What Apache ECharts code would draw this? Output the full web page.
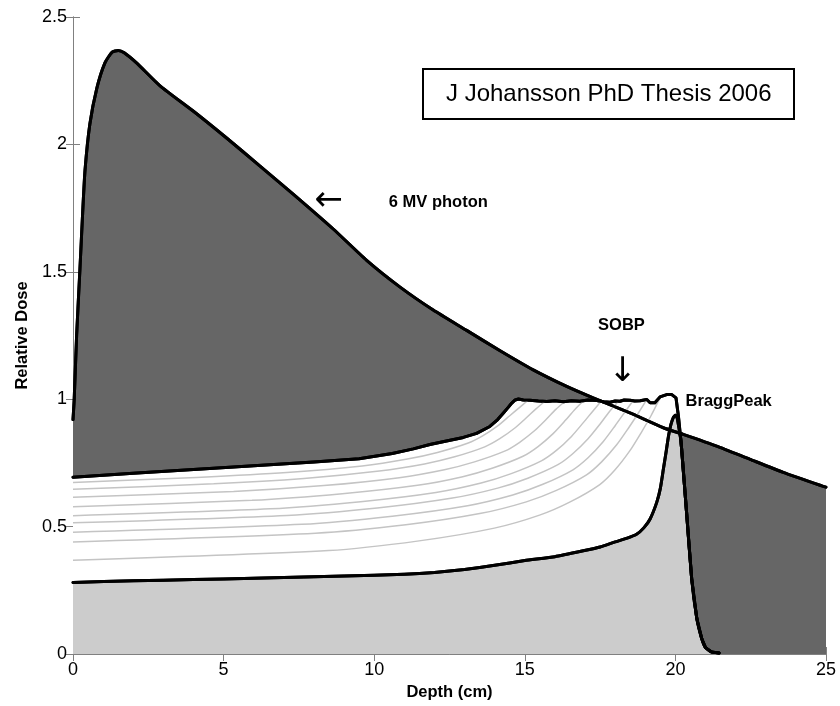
<!DOCTYPE html>
<html><head><meta charset="utf-8">
<script src="https://cdn.jsdelivr.net/npm/echarts@6/dist/echarts.min.js"></script>
<style>html,body{margin:0;padding:0;background:#fff}#c{width:840px;height:706px}</style>
</head><body><div id="c"></div>
<script>
// Axis ranges / ticks
const xTicks = [0, 5, 10, 15, 20, 25];
const yTicks = [0, 0.5, 1, 1.5, 2, 2.5];

// 6 MV photon depth dose
const photon = [[0,0.92],[0.04,1.0],[0.12,1.25],[0.23,1.51],[0.32,1.73],[0.4,1.9],[0.56,2.08],[0.79,2.22],[1.06,2.32],[1.3,2.362],[1.5,2.369],[1.7,2.36],[2.11,2.32],[2.89,2.23],[4.0,2.13],[5.1,2.025],[6.21,1.915],[7.31,1.805],[8.64,1.668],[9.75,1.545],[10.86,1.44],[11.96,1.35],[13.07,1.27],[14.18,1.19],[15.28,1.115],[16.39,1.05],[17.27,1.005],[18.49,0.946],[19.6,0.888],[20.26,0.862],[21.37,0.816],[22.48,0.764],[23.58,0.713],[24.86,0.66],[25,0.655]];

// Spread-out Bragg peak
const sobp = [[0,0.694],[2,0.709],[4,0.724],[6,0.739],[8,0.754],[9.5,0.766],[10.6,0.787],[11.3,0.805],[11.85,0.822],[12.4,0.836],[12.96,0.85],[13.4,0.866],[13.84,0.893],[14.1,0.92],[14.29,0.946],[14.45,0.968],[14.56,0.984],[14.68,0.997],[14.79,1.001],[14.95,0.997],[15.17,0.996],[15.45,0.993],[15.73,0.991],[16.0,0.994],[16.28,0.99],[16.55,0.994],[16.83,0.992],[17.1,0.997],[17.39,0.995],[17.6,0.99],[17.83,0.988],[18.0,0.993],[18.16,0.992],[18.3,0.997],[18.49,0.996],[18.65,0.993],[18.83,0.994],[19.05,0.999],[19.16,0.986],[19.32,0.986],[19.49,1.009],[19.71,1.018],[19.88,1.018],[20.02,1.005],[20.1,0.933],[20.18,0.84],[20.21,0.8],[20.37,0.557],[20.54,0.296],[20.71,0.14],[20.87,0.062],[21.0,0.025],[21.2,0.008],[21.45,0.004]];

// Pristine 180 MeV proton Bragg curve
const pristine = [[0,0.281],[2,0.287],[4,0.292],[6,0.297],[8,0.303],[10,0.309],[11,0.313],[12,0.32],[13,0.332],[14,0.348],[15,0.367],[16,0.382],[16.94,0.405],[17.5,0.42],[18.0,0.44],[18.4,0.455],[18.71,0.47],[18.95,0.495],[19.16,0.53],[19.38,0.595],[19.5,0.65],[19.6,0.725],[19.7,0.8],[19.77,0.855],[19.85,0.9],[19.93,0.928],[20.0,0.937],[20.05,0.93],[20.1,0.9],[20.18,0.84],[20.21,0.8],[20.37,0.557],[20.54,0.296],[20.71,0.14],[20.87,0.062],[21.0,0.025],[21.2,0.008],[21.45,0.004]];

// Partial sums of the SOBP (thin grey curves)
const partial1 = [[0,0.673],[4.1,0.693],[7.1,0.712],[9.6,0.738],[11.1,0.765],[12.1,0.791],[13.1,0.827],[13.6,0.856],[14.1,0.895],[14.5,0.935],[14.8,0.965],[15.1,0.995]];
const partial2 = [[0,0.647],[4.67,0.668],[7.67,0.689],[10.17,0.718],[11.67,0.746],[12.67,0.774],[13.67,0.813],[14.17,0.845],[14.67,0.887],[15.07,0.929],[15.37,0.962],[15.67,0.992]];
const partial3 = [[0,0.615],[5.33,0.638],[8.33,0.661],[10.83,0.692],[12.33,0.723],[13.33,0.754],[14.33,0.796],[14.83,0.831],[15.33,0.877],[15.73,0.923],[16.03,0.96],[16.33,0.991]];
const partial4 = [[0,0.578],[5.94,0.603],[8.94,0.629],[11.44,0.662],[12.94,0.696],[13.94,0.73],[14.94,0.776],[15.44,0.814],[15.94,0.865],[16.34,0.916],[16.64,0.957],[16.94,0.993]];
const partial5 = [[0,0.543],[6.55,0.57],[9.55,0.598],[12.05,0.634],[13.55,0.671],[14.55,0.708],[15.55,0.758],[16.05,0.799],[16.55,0.854],[16.95,0.909],[17.25,0.952],[17.55,0.994]];
const partial6 = [[0,0.515],[7.1,0.544],[10.1,0.573],[12.6,0.612],[14.1,0.651],[15.1,0.69],[16.1,0.743],[16.6,0.787],[17.1,0.845],[17.5,0.903],[17.8,0.95],[18.1,0.991]];
const partial7 = [[0,0.478],[7.6,0.509],[10.6,0.541],[13.1,0.582],[14.6,0.624],[15.6,0.666],[16.6,0.723],[17.1,0.77],[17.6,0.833],[18.0,0.896],[18.3,0.946],[18.6,0.995]];
const partial8 = [[0,0.44],[8.05,0.474],[11.05,0.507],[13.55,0.552],[15.05,0.597],[16.05,0.642],[17.05,0.703],[17.55,0.754],[18.05,0.821],[18.45,0.888],[18.75,0.942],[19.05,0.998]];
const partial9 = [[0,0.368],[8.49,0.406],[11.49,0.444],[13.99,0.494],[15.49,0.545],[16.49,0.596],[17.49,0.665],[17.99,0.722],[18.49,0.798],[18.89,0.874],[19.19,0.935],[19.49,1.005]];
const partials = [partial1, partial2, partial3, partial4, partial5, partial6, partial7, partial8, partial9];

// Annotation texts
const notes = ['6 MV photon', 'SOBP', 'BraggPeak', '180 MeV Proton'];
const arrows = ['\u2190', '\u2193', '\u2192'];

const FONT = 'Liberation Sans, Arial, sans-serif';
const axisCol = '#808080';

function lineSeries(data, opts) {
  return Object.assign({
    type: 'line', data: data, xAxisIndex: 0, yAxisIndex: 0,
    symbol: 'none', showSymbol: false, silent: true,
    lineStyle: { color: '#000', width: 3, join: 'round', cap: 'round' }
  }, opts);
}

const series = [
  lineSeries(photon, { smooth: 0.2, areaStyle: { color: '#666666', opacity: 1 } }),
  lineSeries(sobp, { areaStyle: { color: '#ffffff', opacity: 1 } }),
  lineSeries(pristine, { smooth: 0.15, areaStyle: { color: '#cccccc', opacity: 1 } })
];
partials.forEach(p => series.push(lineSeries(p, { smooth: 0.25, lineStyle: { color: '#c4c4c4', width: 1.5 } })));
series.push(lineSeries(sobp, {}));
series.push(lineSeries(pristine, { smooth: 0.15 }));
series.push(lineSeries(photon, { smooth: 0.2 }));

const boldLbl = { fontFamily: FONT, fontWeight: 'bold', fontSize: 16.5, color: '#000', opacity: 1 };
const arrowLbl = { fontFamily: 'DejaVu Sans', fontSize: 34, color: '#000', opacity: 1 };
series.push({
  type: 'scatter', xAxisIndex: 0, yAxisIndex: 0, symbolSize: 1, silent: true,
  itemStyle: { color: 'rgba(0,0,0,0)', opacity: 1 },
  label: { show: true },
  data: [
    { value: [10.47, 1.773], label: Object.assign({ formatter: notes[0], position: 'right', distance: 0 }, boldLbl) },
    { value: [18.21, 1.288], label: Object.assign({ formatter: notes[1], position: 'inside' }, boldLbl) },
    { value: [20.32, 0.992], label: Object.assign({ formatter: notes[2], position: 'right', distance: 0 }, boldLbl) },
    { value: [12.95, 0.173], label: Object.assign({ formatter: notes[3], position: 'right', distance: 0 }, boldLbl) },
    { value: [8.48, 1.779], label: Object.assign({ formatter: arrows[0], position: 'inside' }, arrowLbl) },
    { value: [18.24, 1.106], label: Object.assign({ formatter: arrows[1], position: 'inside' }, arrowLbl) },
    { value: [19.54, 0.179], label: Object.assign({ formatter: arrows[2], position: 'inside' }, arrowLbl) }
  ]
});

function xAx(pos, labels) {
  return {
    type: 'value', position: pos, min: xTicks[0], max: xTicks[xTicks.length - 1], interval: xTicks[1] - xTicks[0],
    axisLine: { show: true, lineStyle: { color: axisCol, width: 1 } },
    axisTick: { show: true, inside: true, length: 7, lineStyle: { color: axisCol } },
    splitLine: { show: false },
    axisLabel: { show: labels, color: '#000', fontSize: 18, fontFamily: FONT, margin: 7 },
    name: labels ? 'Depth (cm)' : '', nameLocation: 'middle', nameGap: 30,
    nameTextStyle: { fontFamily: FONT, fontWeight: 'bold', fontSize: 16.5, color: '#000' }
  };
}
function yAx(pos, labels) {
  return {
    type: 'value', position: pos, min: yTicks[0], max: yTicks[yTicks.length - 1], interval: yTicks[1] - yTicks[0],
    axisLine: { show: true, lineStyle: { color: axisCol, width: 1 } },
    axisTick: { show: true, inside: true, length: 7, lineStyle: { color: axisCol } },
    splitLine: { show: false },
    axisLabel: { show: labels, color: '#000', fontSize: 18, fontFamily: FONT, margin: 6 },
    name: labels ? 'Relative Dose' : '', nameLocation: 'middle', nameGap: 36, nameRotate: 90,
    nameTextStyle: { fontFamily: FONT, fontWeight: 'bold', fontSize: 16.5, color: '#000' }
  };
}

const chart = echarts.init(document.getElementById('c'), null, { renderer: 'canvas' });
chart.setOption({
  animation: false,
  backgroundColor: '#ffffff',
  title: {
    text: 'J Johansson PhD Thesis 2006', left: 423, top: 69, padding: [12, 23],
    borderColor: '#000', borderWidth: 2, backgroundColor: '#fff',
    textStyle: { fontSize: 24, fontWeight: 'normal', fontFamily: FONT, color: '#000', lineHeight: 26 }
  },
  grid: { left: 73, right: 14, top: 17, bottom: 51, containLabel: false },
  xAxis: [xAx('bottom', true), xAx('top', false)],
  yAxis: [yAx('left', true), yAx('right', false)],
  series: series
});
</script>
</body></html>
